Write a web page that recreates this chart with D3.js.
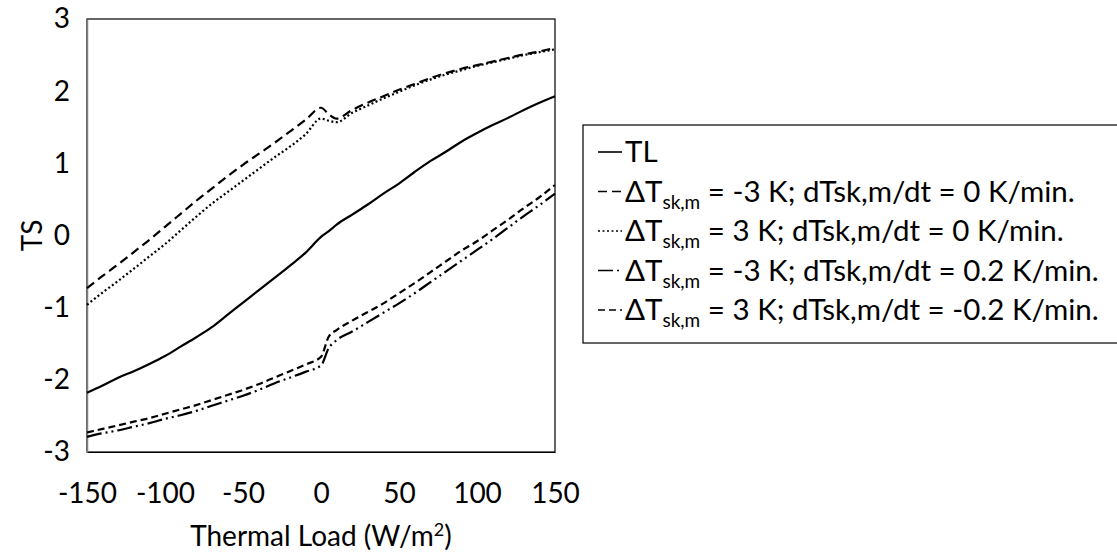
<!DOCTYPE html>
<html>
<head>
<meta charset="utf-8">
<script src="https://cdn.jsdelivr.net/npm/d3@7"></script>
<style>
  body { margin: 0; background: #fff; }
  text { font-family: Lato, "Open Sans", sans-serif; fill: #000; }
</style>
</head>
<body>
<svg id="chart" width="1117" height="553"></svg>
<script>
// thermal load (W/m2)
const loads = [-150, -140, -130, -120, -110, -100, -90, -80, -70, -60, -50, -40, -30, -20, -10, 0, 5,
  10, 20, 30, 40, 50, 60, 70, 80, 90, 100, 110, 120, 130, 140, 150];

// thermal sensation per series
const tl = [-2.18, -2.08, -1.97, -1.88, -1.78, -1.67, -1.54, -1.41, -1.27, -1.10, -0.93, -0.76, -0.59, -0.42, -0.24, -0.02, 0.06,
  0.15, 0.29, 0.43, 0.58, 0.72, 0.88, 1.03, 1.16, 1.30, 1.42, 1.53, 1.63, 1.74, 1.84, 1.93];
const coldStatic = [-0.73, -0.56, -0.40, -0.23, -0.06, 0.12, 0.30, 0.48, 0.65, 0.82, 0.98, 1.13, 1.28, 1.44, 1.60, 1.77, 1.68,
  1.62, 1.74, 1.84, 1.93, 2.02, 2.10, 2.18, 2.25, 2.31, 2.36, 2.41, 2.46, 2.51, 2.55, 2.60];
const warmStatic = [-0.96, -0.79, -0.63, -0.46, -0.29, -0.12, 0.07, 0.26, 0.44, 0.60, 0.76, 0.92, 1.08, 1.23, 1.40, 1.62, 1.59,
  1.57, 1.70, 1.80, 1.90, 1.99, 2.08, 2.16, 2.23, 2.29, 2.35, 2.40, 2.45, 2.50, 2.54, 2.58];
const coldWarming = [-2.79, -2.74, -2.70, -2.65, -2.60, -2.54, -2.49, -2.43, -2.36, -2.29, -2.22, -2.14, -2.05, -1.97, -1.89, -1.80, -1.56,
  -1.45, -1.33, -1.20, -1.07, -0.94, -0.80, -0.65, -0.50, -0.35, -0.20, -0.05, 0.11, 0.27, 0.42, 0.58];
const warmCooling = [-2.73, -2.68, -2.63, -2.58, -2.53, -2.47, -2.41, -2.35, -2.28, -2.21, -2.14, -2.06, -1.97, -1.88, -1.79, -1.68, -1.40,
  -1.31, -1.18, -1.06, -0.94, -0.80, -0.66, -0.51, -0.36, -0.21, -0.08, 0.07, 0.22, 0.38, 0.53, 0.70];

const xTicks = [-150, -100, -50, 0, 50, 100, 150];
const yTicks = [-3, -2, -1, 0, 1, 2, 3];

const seriesList = [
  { values: tl, dash: null, main: "TL", sub: "", rest: "" },
  { values: coldStatic, dash: "9,5", main: "\u0394T", sub: "sk,m", rest: " = -3 K; dTsk,m/dt = 0 K/min." },
  { values: warmStatic, dash: "2,2.5", main: "\u0394T", sub: "sk,m", rest: " = 3 K; dTsk,m/dt = 0 K/min." },
  { values: coldWarming, dash: "15,4,2,4,2,4", main: "\u0394T", sub: "sk,m", rest: " = -3 K; dTsk,m/dt = 0.2 K/min." },
  { values: warmCooling, dash: "7,4", main: "\u0394T", sub: "sk,m", rest: " = 3 K; dTsk,m/dt = -0.2 K/min." }
];

const svg = d3.select("#chart");
const plot = { left: 87, right: 555, top: 19, bottom: 452 };

const x = d3.scaleLinear().domain([-150, 150]).range([plot.left, plot.right]);
const y = d3.scaleLinear().domain([-3, 3]).range([plot.bottom, plot.top]);

// plot frame
svg.append("rect")
  .attr("x", plot.left).attr("y", plot.top)
  .attr("width", plot.right - plot.left).attr("height", plot.bottom - plot.top)
  .attr("fill", "none").attr("stroke", "#000").attr("stroke-width", 1.2);

// axes, labels only (plain hyphen for negatives)
const fmt = d => String(d);
const xAxis = svg.append("g")
  .attr("transform", `translate(0,${plot.bottom})`)
  .call(d3.axisBottom(x).tickValues(xTicks).tickSize(0).tickPadding(31).tickFormat(fmt));
const yAxis = svg.append("g")
  .attr("transform", `translate(${plot.left},0)`)
  .call(d3.axisLeft(y).tickValues(yTicks).tickSize(0).tickPadding(17).tickFormat(fmt));

[xAxis, yAxis].forEach(g => {
  g.select(".domain").attr("stroke", "#808080").attr("stroke-width", 1.5);
  g.selectAll("text").attr("font-size", 28).attr("font-family", "Lato");
});
xAxis.select(".domain").attr("stroke", "#000").attr("stroke-width", 1.2);

// series lines
const line = d3.line()
  .x((d, i) => x(loads[i]))
  .y(d => y(d))
  .curve(d3.curveMonotoneX);

svg.append("g").selectAll("path")
  .data(seriesList)
  .join("path")
  .attr("d", d => line(d.values))
  .attr("fill", "none")
  .attr("stroke", "#000")
  .attr("stroke-width", 2.2)
  .attr("stroke-dasharray", d => d.dash);

// axis titles
svg.append("text")
  .attr("transform", `translate(42,${y(0)}) rotate(-90)`)
  .attr("text-anchor", "middle")
  .attr("font-size", 28)
  .text("TS");

const xt = svg.append("text")
  .attr("x", x(0)).attr("y", 546)
  .attr("text-anchor", "middle")
  .attr("font-size", 28);
xt.append("tspan").text("Thermal Load (W/m");
xt.append("tspan").attr("font-size", 18).attr("dy", -10).text("2");
xt.append("tspan").attr("dy", 10).text(")");

// legend
const legend = svg.append("g");
legend.append("rect")
  .attr("x", 583).attr("y", 125)
  .attr("width", 540).attr("height", 218)
  .attr("fill", "#fff").attr("stroke", "#000").attr("stroke-width", 1.2);

const rowY = i => 152 + i * 39.5;
const rows = legend.selectAll("g.row")
  .data(seriesList)
  .join("g")
  .attr("class", "row")
  .attr("transform", (d, i) => `translate(0,${rowY(i)})`);

rows.append("line")
  .attr("x1", 598).attr("x2", 622)
  .attr("y1", 0).attr("y2", 0)
  .attr("stroke", "#000").attr("stroke-width", 1.6)
  .attr("stroke-dasharray", d => d.dash);

const label = rows.append("text")
  .attr("x", 625)
  .attr("y", 10)
  .attr("font-size", 29.5);
label.append("tspan").text(d => d.main);
label.filter(d => d.sub).append("tspan")
  .attr("font-size", 19).attr("dy", 7).text(d => d.sub);
label.filter(d => d.sub).append("tspan")
  .attr("dy", -7).text(d => d.rest);
</script>
</body>
</html>
